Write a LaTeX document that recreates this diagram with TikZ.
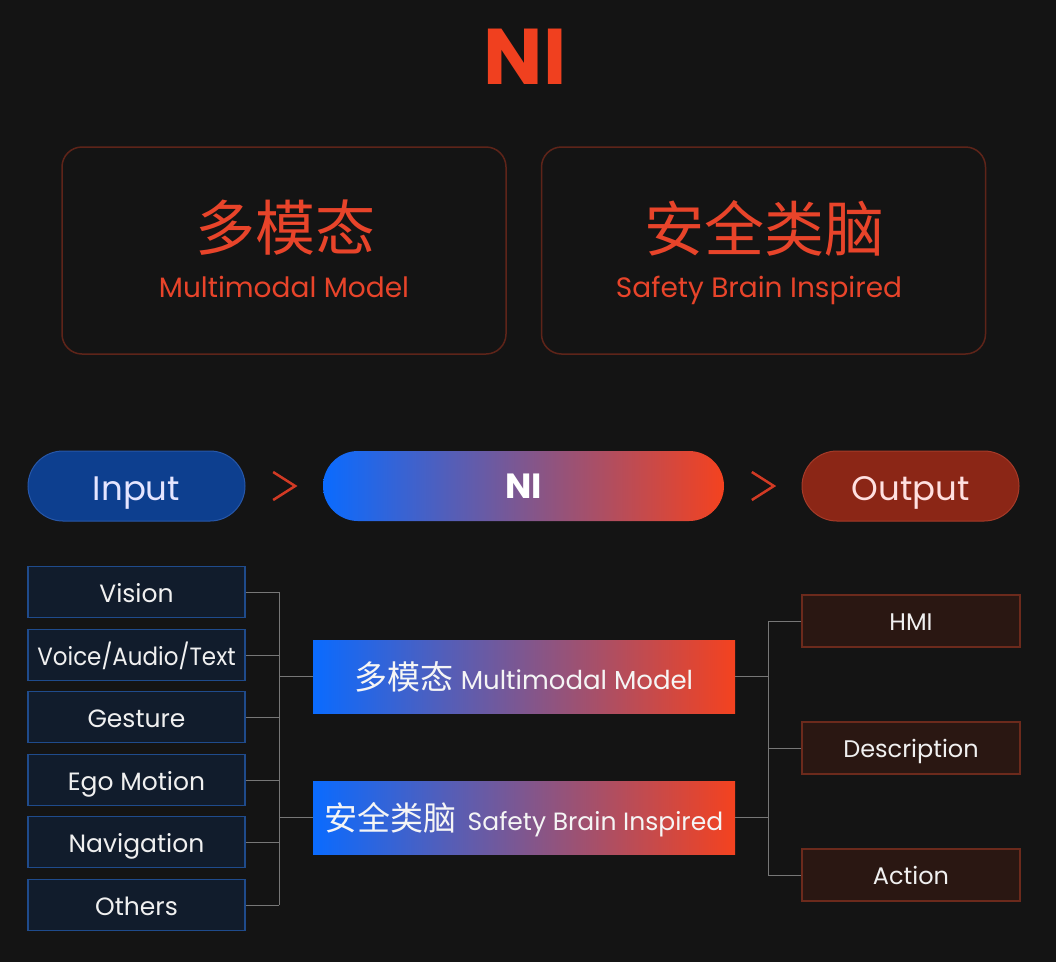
\documentclass[tikz,border=0pt]{standalone}
\usepackage{fontspec}
\setmainfont{Poppins}
\newfontfamily\cjk{Noto Sans CJK SC}
\usetikzlibrary{positioning}

\definecolor{bgdark}{HTML}{141414}
\definecolor{titlered}{HTML}{F0401F}
\definecolor{topline}{HTML}{5E2419}
\definecolor{toptext}{HTML}{E8442A}
\definecolor{inblue}{HTML}{0D3F8F}
\definecolor{inline}{HTML}{2757A8}
\definecolor{outred}{HTML}{8B2616}
\definecolor{outline}{HTML}{A53A28}
\definecolor{gradblue}{HTML}{0A6BFF}
\definecolor{gradmid}{HTML}{934E8E}
\definecolor{gradred}{HTML}{F4421F}
\definecolor{leftfill}{HTML}{111C2C}
\definecolor{leftline}{HTML}{1F4B8C}
\definecolor{rightfill}{HTML}{2A1712}
\definecolor{rightline}{HTML}{6C2A1C}
\definecolor{wiregray}{HTML}{777777}
\definecolor{chevred}{HTML}{D23A24}

\tikzset{
	topbox/.style={draw=topline, line width=1.5pt, rounded corners=20pt,
		minimum width=444pt, minimum height=207pt},
	pill/.style={rounded corners=35pt, minimum width=217pt, minimum height=70pt,
		inner sep=0pt, font=\fontsize{34}{40}\selectfont, text height=28pt, text depth=0pt},
	gradbox/.style={left color=gradblue, middle color=gradmid, right color=gradred,
		minimum width=422pt, minimum height=73pt, inner sep=0pt, text=white!92!gray,
		font=\fontsize{26}{30}\selectfont, text height=25pt, text depth=0pt},
	srcbox/.style={draw=leftline, fill=leftfill, line width=1.2pt, minimum width=217pt,
		minimum height=51pt, inner sep=0pt, text=white!88!gray,
		font=\fontsize{25}{30}\selectfont, text height=21pt, text depth=0pt},
	dstbox/.style={draw=rightline, fill=rightfill, line width=1.2pt, minimum width=218pt,
		minimum height=52pt, inner sep=0pt, text=white!88!gray,
		font=\fontsize{24}{30}\selectfont, text height=18pt, text depth=0pt},
	wire/.style={draw=wiregray, line width=1pt},
	chev/.style={draw=chevred, line width=2.5pt},
}

\begin{document}
\begin{tikzpicture}[x=1pt,y=-1pt]
\fill[bgdark] (0,0) rectangle (1056,962);
\useasboundingbox (0,0) rectangle (1056,962);

% title
\node[text=titlered, font=\fontsize{79}{80}\selectfont\bfseries, text height=55pt,
	text depth=0pt, inner sep=0pt] (title) at (525,57) {NI};

% two top boxes
\node[topbox] (mmtop) at (284,250.5) {};
\node[topbox] (sbtop) at (763.5,250.5) {};
\node[text=toptext, font=\cjk\fontsize{60}{70}\selectfont] (mmcn) at (285,228) {多模态};
\node[text=toptext, font=\fontsize{28}{32}\selectfont, anchor=base] (mmen) at (284,297) {Multimodal Model};
\node[text=toptext, font=\cjk\fontsize{60}{70}\selectfont] (sbcn) at (764,228) {安全类脑};
\node[text=toptext, font=\fontsize{28}{32}\selectfont, anchor=base] (sben) at (759,297) {Safety Brain Inspired};

% pipeline
\node[pill, fill=inblue, draw=inline, line width=1pt, text=white!90!blue] (input) at (136.5,486) {Input};
\node[pill, left color=gradblue, middle color=gradmid, right color=gradred, minimum width=401pt,
	text=white, font=\fontsize{35}{40}\selectfont\bfseries, text height=24pt] (ni) at (523.5,486) {NI};
\node[pill, fill=outred, draw=outline, line width=1pt, text=white!88!red] (output) at (910.5,486) {Output};
\path (input.east) -- (ni.west) coordinate[midway] (ch1);
\path (ni.east) -- (output.west) coordinate[midway] (ch2);
\draw[chev] (ch1) ++(-11,-14) -- ++(22,14) -- ++(-22,14);
\draw[chev] (ch2) ++(-11,-14) -- ++(22,14) -- ++(-22,14);

% inputs
\coordinate (lbus) at (279,0);
\foreach \i/\txt/\y in {1/Vision/592, 2/{\scalebox{0.92}[1]{Voice/Audio/Text}}/655,
	3/Gesture/717, 4/Ego Motion/780, 5/Navigation/842, 6/Others/905} {
	\node[srcbox] (in\i) at (136.5,\y) {\txt};
	\draw[wire] (in\i.east) -- (in\i.east -| lbus);
}
\draw[wire] (in1.east -| lbus) -- (in6.east -| lbus);

% core blocks
\node[gradbox] (mm) at (524,676.5) {{\cjk\fontsize{33}{38}\selectfont 多模态} Multimodal Model};
\node[gradbox, font=\fontsize{25}{30}\selectfont] (sb) at (524,817.5) {{\cjk\fontsize{33}{38}\selectfont 安全类脑}\, Safety Brain Inspired};
\draw[wire] (mm.west) -- (mm.west -| lbus);
\draw[wire] (sb.west) -- (sb.west -| lbus);

% outputs
\coordinate (rbus) at (768,0);
\foreach \i/\txt/\y in {1/HMI/621, 2/Description/748, 3/Action/875} {
	\node[dstbox] (out\i) at (911,\y) {\txt};
	\draw[wire] (out\i.west) -- (out\i.west -| rbus);
}
\draw[wire] (out1.west -| rbus) -- (out3.west -| rbus);
\draw[wire] (mm.east) -- (mm.east -| rbus);
\draw[wire] (sb.east) -- (sb.east -| rbus);
\end{tikzpicture}
\end{document}
